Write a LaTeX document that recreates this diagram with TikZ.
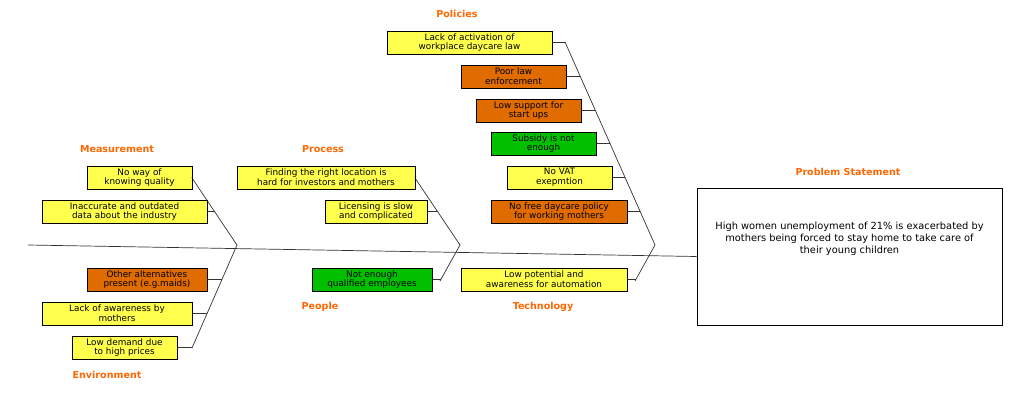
\documentclass[tikz,border=0pt]{standalone}
\usepackage{fontspec}
\setmainfont{DejaVu Sans}
\usetikzlibrary{positioning}
\definecolor{causeyel}{HTML}{FFFF4D}
\definecolor{causeorg}{HTML}{E06C00}
\definecolor{causegrn}{HTML}{00C000}
\definecolor{headorg}{HTML}{FF6600}
\tikzset{
  cause/.style={rectangle, draw=black, line width=0.4pt, inner sep=1pt, align=center,
    minimum height=0.575cm, font=\fontsize{6.3}{7}\selectfont, text=black},
  yel/.style={cause, fill=causeyel, minimum width=#1},
  org/.style={cause, fill=causeorg, minimum width=#1},
  grn/.style={cause, fill=causegrn, minimum width=#1},
  head/.style={font=\fontsize{6.8}{8}\bfseries\selectfont, text=headorg},
  bone/.style={draw=black!80, line width=0.5pt}
}
\begin{document}
\begin{tikzpicture}[x=0.025cm, y=-0.025cm]
	\useasboundingbox (0,0) rectangle (1024,402);
	% problem statement
	\node (problem) [draw, rectangle, minimum width=7.625cm, minimum height=3.425cm, align=center,
	  font=\fontsize{7}{8.5}\selectfont] at (849.5,256.5) {High women unemployment of 21\% is exacerbated by\\mothers being forced to stay home to take care of\\their young children\\[2.6em]};
	\node (hprob) [head] at (848,172) {Problem Statement};
	\coordinate (left) at (28,245);
	\draw [bone] (left) -- (problem.west);

	% branch ends
	\coordinate (polTop) at (565,42);   \coordinate (polJ) at (655,245);
	\coordinate (tecBot) at (635,281);
	\coordinate (proTop) at (415,178);  \coordinate (proJ) at (460,245);
	\coordinate (peoBot) at (440,281);
	\coordinate (meaTop) at (192,178);  \coordinate (meaJ) at (237,245);
	\coordinate (envBot) at (192,348);
	\draw [bone] (polTop) -- (polJ) -- (tecBot);
	\draw [bone] (proTop) -- (proJ) -- (peoBot);
	\draw [bone] (meaTop) -- (meaJ) -- (envBot);

	% headings
	\node (hpol) [head] at (457,14) {Policies};
	\node (htec) [head] at (543,307) {Technology};
	\node (hpro) [head] at (323,149) {Process};
	\node (hpeo) [head] at (320,307) {People};
	\node (hmea) [head] at (117,149) {Measurement};
	\node (henv) [head] at (107,375) {Environment};

	% policies
	\node (pol1) [yel=4.125cm] at (469.5,42.5) {Lack of activation of\\workplace daycare law};
	\node (pol2) [org=2.625cm] at (513.5,76.5) {Poor law\\enforcement};
	\node (pol3) [org=2.625cm] at (528.5,110.5) {Low support for\\start ups};
	\node (pol4) [grn=2.625cm] at (543.5,143.5) {Subsidy is not\\enough};
	\node (pol5) [yel=2.625cm] at (559.5,177.5) {No VAT\\exepmtion};
	\node (pol6) [org=3.4cm] at (559,211.5) {No free daycare policy\\for working mothers};
	\foreach \n in {pol1,pol2,pol3,pol4,pol5,pol6}
	  \draw [bone] (\n.east) -- (intersection of \n.east--\n.west and polTop--polJ);
	% technology
	\node (tec1) [yel=4.15cm] at (544,279.5) {Low potential and\\awareness for automation};
	\draw [bone] (tec1.east) -- (intersection of tec1.east--tec1.west and polJ--tecBot);
	% process
	\node (pro1) [yel=4.45cm] at (326,177.5) {Finding the right location is\\hard for investors and mothers};
	\node (pro2) [yel=2.55cm] at (376,211.5) {Licensing is slow\\and complicated};
	\foreach \n in {pro1,pro2}
	  \draw [bone] (\n.east) -- (intersection of \n.east--\n.west and proTop--proJ);
	% people
	\node (peo1) [grn=3cm] at (372,279.5) {Not enough\\qualified employees};
	\draw [bone] (peo1.east) -- (intersection of peo1.east--peo1.west and proJ--peoBot);
	% measurement
	\node (mea1) [yel=2.625cm] at (139.5,177.5) {No way of\\knowing quality};
	\node (mea2) [yel=4.125cm] at (124.5,211.5) {Inaccurate and outdated\\data about the industry};
	\foreach \n in {mea1,mea2}
	  \draw [bone] (\n.east) -- (intersection of \n.east--\n.west and meaTop--meaJ);
	% environment
	\node (env1) [org=3cm] at (147,279.5) {Other alternatives\\present (e.g.maids)};
	\node (env2) [yel=3.75cm] at (117,313.5) {Lack of awareness by\\mothers};
	\node (env3) [yel=2.625cm] at (124.5,347.5) {Low demand due\\to high prices};
	\foreach \n in {env1,env2,env3}
	  \draw [bone] (\n.east) -- (intersection of \n.east--\n.west and meaJ--envBot);
\end{tikzpicture}
\end{document}
